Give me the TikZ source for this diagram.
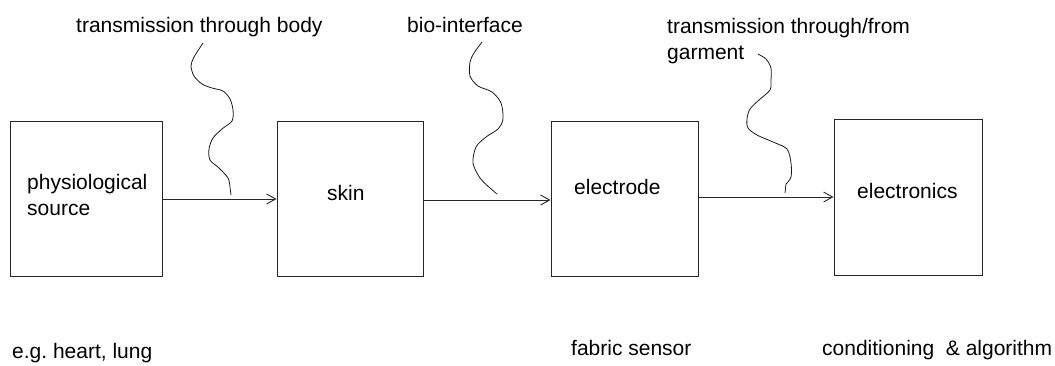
\documentclass[tikz,border=0pt]{standalone}
\usepackage{fontspec}
\setmainfont{Liberation Sans}
\usetikzlibrary{arrows.meta,positioning,calc}
\def\blockwidth{148pt}
\def\blockheight{155pt}
\def\textsize{\fontsize{21}{26}\selectfont}

\tikzset{
  block/.style={draw=black!85,line width=1pt,minimum width=\blockwidth,minimum height=\blockheight,inner sep=0},
  lbl/.style={anchor=base west,inner sep=0,font=\textsize,align=left},
  flow/.style={draw=black!85,line width=0.9pt,-{Straight Barb[length=9pt,width=10pt]}},
  wave/.style={draw=black!90,line width=0.8pt}
}

\begin{document}
\begin{tikzpicture}[x=1pt,y=-1pt]
  \useasboundingbox (0,0) rectangle (1055,365);

  \node[block,minimum width=152pt] (src) at (86,199) {};
  \node[block,minimum width=146pt] (skin) at (350,198.5) {};
  \node[block,minimum width=147pt] (electrode) at (624.5,198.5) {};
  \node[block,minimum height=156pt] (electronics) at (908,197) {};

  \node[lbl] (src-text) at (27,215) {physiological\\source};
  \node[lbl] (skin-text) at (327,200) {skin};
  \node[lbl] (electrode-text) at (574,194) {electrode};
  \node[lbl] (electronics-text) at (857,198) {electronics};

  \draw[flow] (src.east) -- (src.east -| skin.west);
  \draw[flow] ($ (skin.east) + (0,1.5) $) -- ($ (skin.east -| electrode.west) + (0,1.5) $);
  \draw[flow] (electrode.east |- electronics.west) -- (electronics.west);

  \node[lbl] (body-text) at (76,32) {transmission through body};
  \node[lbl] (bio-text) at (407,32) {bio-interface};
  \node[lbl] (garment-text) at (667,59) {transmission through/from\\garment};

  \coordinate (W1) at (231,195);
  \coordinate (W2) at (497,194);
  \coordinate (W3) at (785,193);

  \draw[wave] plot[smooth] coordinates {(203,43) (194,57) (191,66) (194,76) (202,84) (212,88) (223,91) (230,99) (233,110) (232,121) (222,129) (213,138) (209,149) (210,160) (219,168) (228,178) (230,187)} -- (W1);
  \draw[wave] plot[smooth] coordinates {(482,42) (474,53) (470,62) (470,76) (478,86) (492,92) (501,103) (503,119) (498,129) (486,137) (476,147) (473,163) (480,178) (490,188)} -- (W2);
  \draw[wave] plot[smooth] coordinates {(758,54) (766,59) (771,68) (771,80) (770,90) (759,100) (750,109) (747,119) (748,128) (757,135) (773,142) (787,149) (791,163) (791,177) (786,184)} -- (W3);

  \node[lbl] (src-note) at (12,358) {e.g.\ heart, lung};
  \node[lbl] (electrode-note) at (571,355) {fabric sensor};
  \node[lbl] (electronics-note) at (822,355) {conditioning\ \ \& algorithm};
\end{tikzpicture}
\end{document}
